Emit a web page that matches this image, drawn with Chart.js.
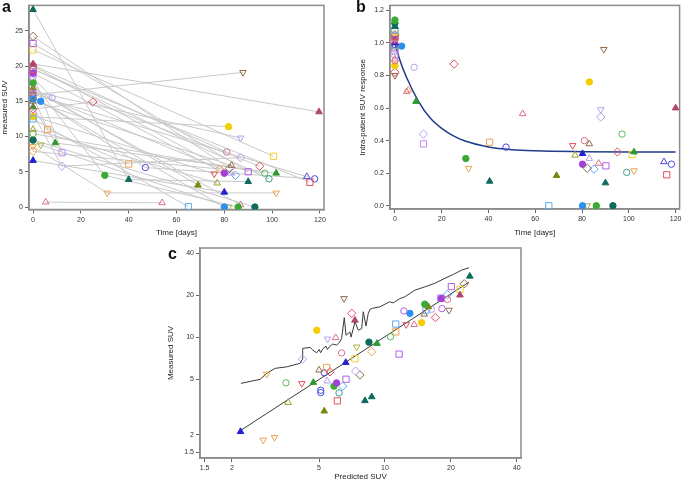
<!DOCTYPE html>
<html>
<head>
<meta charset="utf-8">
<script src="https://cdn.jsdelivr.net/npm/chart.js@4.4.1/dist/chart.umd.min.js"></script>
<style>
  body { margin: 0; background: #fff; width: 685px; height: 482px; position: relative; overflow: hidden;
         font-family: "Liberation Sans", Arial, sans-serif; }
  canvas { position: absolute; }
  .panel { position: absolute; font-weight: bold; font-size: 16px; line-height: 16px; color: #111; }
</style>
</head>
<body>
<canvas id="chartA" width="335" height="243" style="left:0;top:0"></canvas>
<canvas id="chartB" width="345" height="243" style="left:340px;top:0"></canvas>
<canvas id="chartC" width="385" height="244" style="left:150px;top:238px"></canvas>
<div class="panel" style="left:2px;top:-1px">a</div>
<div class="panel" style="left:356px;top:-1px">b</div>
<div class="panel" style="left:168px;top:246px">c</div>
<script>
// marker look per patient: [shape, colour, filled]
const markerStyles = {
    tealTri: ['triangle', '#0e6b5c', true],
    tealDot: ['circle', '#0e6b5c', true],
    tealCirc: ['circle', '#3c9c8f', false],
    brownDia: ['rectRot', '#8c6a4e', false],
    brownHeart: ['down', '#8c6a4e', false],
    brownTri: ['triangle', '#8c6a4e', false],
    purpleSq: ['rect', '#b35ee6', false],
    purpleDot: ['circle', '#a43fd9', true],
    purpleCirc: ['circle', '#b35ee6', false],
    yellowSq: ['rect', '#f0d030', false],
    yellowDot: ['circle', '#f5cc00', true],
    pinkTri: ['triangle', '#d9708f', false],
    pinkCirc: ['circle', '#d9708f', false],
    redSq: ['rect', '#e0505e', false],
    redDia: ['rectRot', '#e0505e', false],
    redHeart: ['down', '#e0505e', false],
    maroonTri: ['triangle', '#b0446e', true],
    greenDot: ['circle', '#3aaa35', true],
    greenTri: ['triangle', '#2e9a2e', true],
    greenCirc: ['circle', '#5ab85a', false],
    blueDot: ['circle', '#2b8ff0', true],
    blueSq: ['rect', '#5aaaf5', false],
    blueDia: ['rectRot', '#5aaaf5', false],
    navyTri: ['triangle', '#2222d0', true],
    navyTriO: ['triangle', '#4a4ae0', false],
    navyCirc: ['circle', '#4a4ae0', false],
    orangeSq: ['rect', '#f0a050', false],
    orangeDia: ['rectRot', '#f0a050', false],
    orangeHeart: ['down', '#f0a050', false],
    orangeTri: ['triangle', '#f0a050', false],
    oliveTri: ['triangle', '#9aa030', false],
    oliveTriF: ['triangle', '#7a8a10', true],
    oliveHeart: ['down', '#a8b040', false],
    lavCirc: ['circle', '#b6a0f0', false],
    lavSq: ['rect', '#c08cf0', false],
    lavDia: ['rectRot', '#b6a0f0', false],
    lavHeart: ['down', '#b6a0f0', false],
    lavTri: ['triangle', '#b6a0f0', false]
};

// ---- panel a: measured SUV over time, one row per patient
const aPatients = ['tealTri', 'brownDia', 'purpleSq', 'yellowSq', 'maroonTri', 'pinkCirc', 'redSq', 'purpleDot',
    'greenDot', 'pinkTri', 'lavSq', 'blueSq', 'brownTri', 'blueDot', 'lavCirc', 'redDia', 'yellowDot', 'oliveTri',
    'greenCirc', 'tealDot', 'orangeDia', 'navyTri', 'orangeSq', 'greenTri', 'oliveHeart', 'lavDia', 'pinkTri',
    'orangeHeart', 'navyCirc', 'navyTriO', 'tealCirc', 'oliveTriF', 'brownHeart', 'lavHeart', 'redHeart', 'lavTri', 'blueDia'];
const aDays = [[0, 40, 90], [0, 82.2], [0, 90], [0, 100.6], [0, 119.6], [0, 81], [0, 115.8], [0, 80],
    [0, 30, 85.8], [0, 86.8], [0, 12.1], [0, 65], [0, 83], [0, 3.2, 80], [0, 8], [0, 25, 94.8], [0, 81.8], [0, 77],
    [0, 96.9], [0, 92.8], [0, 78], [0, 80], [0, 6.1, 40], [0, 9.3, 101.7], [0, 3.2, 81.8], [0, 12.1, 86.8], [5.3, 54],
    [0, 31, 101.7], [0, 47, 117.8], [0, 114.5], [0, 98.7], [0, 69], [0, 87.8], [0, 86.8], [0, 75.8], [0, 82.8], [0, 84.7]];
const aSuv = [[28.0, 3.9, 3.6], [24.2, 5.5], [23.2, 5.0], [22.3, 7.2], [20.3, 13.5], [20.1, 7.8], [19.5, 3.5], [19.0, 4.8],
    [17.6, 4.5, 0], [16.6, 0.3], [18.9, 7.7], [12.5, 0.05], [15.0, 5.9], [15.3, 15.0, 0], [18.4, 15.5], [13.9, 14.9, 5.8], [12.8, 11.4], [11.0, 3.4],
    [10.4, 4.8], [9.5, 0], [7.9, 5.4], [6.6, 2.1], [15.6, 11.0, 6.1], [14.2, 9.1, 4.8], [9.3, 8.8, 0], [13.2, 5.8, 7.0], [0.7, 0.6],
    [8.6, 2.0, 2.0], [15.7, 5.6, 4.0], [16.0, 4.3], [19.6, 4.0], [16.9, 3.1], [15.9, 19.1], [16.4, 9.8], [12.9, 4.7], [16.3, 4.8], [20.0, 4.5]];
const aXTicks = [0, 20, 40, 60, 80, 100, 120];
const aYTicks = [0, 5, 10, 15, 20, 25];

// ---- panel b: intra-patient SUV response
const bNames = ['greenDot', 'greenTri', 'tealDot', 'tealTri', 'blueSq', 'yellowSq', 'brownDia', 'redSq', 'orangeSq',
    'purpleDot', 'maroonTri', 'navyTri', 'navyCirc', 'greenCirc', 'purpleSq', 'lavSq', 'oliveTri', 'tealCirc', 'redHeart',
    'pinkTri', 'lavCirc', 'pinkCirc', 'yellowDot', 'redDia', 'brownHeart',
    'blueDot', 'lavCirc', 'redDia', 'orangeTri', 'pinkTri', 'greenTri', 'lavDia', 'lavSq', 'greenDot', 'orangeHeart',
    'tealTri', 'orangeSq', 'navyCirc', 'pinkTri', 'blueSq', 'brownHeart', 'yellowDot', 'lavHeart', 'lavDia', 'maroonTri',
    'greenCirc', 'pinkCirc', 'redHeart', 'brownTri', 'oliveTri', 'navyTri', 'lavTri', 'redDia', 'greenTri', 'yellowSq',
    'pinkTri', 'purpleDot', 'purpleSq', 'brownDia', 'blueDia', 'tealCirc', 'orangeHeart', 'navyTriO', 'navyCirc', 'redSq',
    'oliveTriF', 'tealTri', 'blueDot', 'oliveHeart', 'greenDot', 'tealDot'];
const bDays = [0, 0, 0, 0, 0, 0, 0, 0, 0, 0, 0, 0, 0, 0, 0, 0, 0, 0, 0, 0, 0, 0, 0, 0, 0,
    2.9, 8.2, 25.3, 5.7, 5.0, 9, 12.2, 12.2, 30.3, 31.5, 40.5, 40.5, 47.5, 54.6, 65.8, 89.3, 83.1, 88, 88, 120,
    97.1, 81, 76, 83.1, 77, 80.2, 83.1, 95.1, 102.2, 101.4, 87.1, 80.2, 90.2, 82.2, 85.1, 99.1, 102.2, 115, 118.2, 116.2,
    69.1, 90, 80.2, 82.2, 86.1, 93.2];
const bResp = [1.14, 1.13, 1.12, 1.10, 1.08, 1.07, 1.05, 1.04, 1.03, 1.02, 1.01, 1.00, 0.99, 0.98, 0.97, 0.95, 1.00, 1.02, 1.03,
    0.90, 0.92, 0.89, 0.86, 0.82, 0.80,
    0.98, 0.85, 0.87, 0.71, 0.70, 0.64, 0.44, 0.38, 0.29, 0.23, 0.15, 0.39, 0.36, 0.565, 0, 0.96, 0.76, 0.59, 0.545, 0.60,
    0.44, 0.40, 0.37, 0.38, 0.31, 0.32, 0.29, 0.33, 0.33, 0.315, 0.26, 0.255, 0.245, 0.23, 0.225, 0.205, 0.215, 0.27, 0.255, 0.19,
    0.185, 0.14, 0, 0, 0, 0];
// fitted decay curve
const bCurveDays = [0, 2, 5, 10, 15, 20, 25, 30, 40, 50, 60, 80, 100, 120];
const bCurveResp = [1.0, 0.90, 0.787, 0.643, 0.54, 0.475, 0.429, 0.397, 0.361, 0.344, 0.337, 0.332, 0.33, 0.33];
const bXTicks = [0, 20, 40, 60, 80, 100, 120];
const bYTicks = [0, 0.2, 0.4, 0.6, 0.8, 1.0, 1.2];

// ---- panel c: measured vs predicted SUV (log-log)
const cNames = ['brownHeart', 'redDia', 'maroonTri', 'yellowDot', 'lavHeart', 'pinkTri', 'pinkCirc', 'oliveHeart', 'lavDia',
    'orangeHeart', 'greenCirc', 'redHeart', 'greenTri', 'brownTri', 'orangeSq', 'redDia', 'navyCirc', 'lavTri', 'purpleDot',
    'greenDot', 'blueDia', 'purpleSq', 'navyCirc', 'navyCirc', 'tealCirc', 'redSq', 'oliveTri', 'oliveTriF', 'navyTri',
    'orangeHeart', 'orangeHeart', 'navyTri', 'yellowSq', 'lavDia', 'brownDia', 'tealTri', 'tealTri', 'purpleSq', 'orangeDia',
    'tealTri', 'purpleSq', 'brownDia', 'yellowSq', 'maroonTri', 'blueDia', 'purpleDot', 'purpleSq', 'pinkCirc', 'purpleCirc',
    'brownHeart', 'redDia', 'greenDot', 'oliveTriF', 'blueSq', 'lavCirc', 'brownTri', 'purpleCirc', 'blueDot', 'yellowDot',
    'pinkTri', 'redHeart', 'blueSq', 'orangeSq', 'greenCirc', 'tealDot', 'greenTri'];
const cPredicted = [6.50, 7.05, 7.29, 4.88, 5.47, 5.95, 6.34, 7.43, 4.2,
    2.88, 3.53, 4.17, 4.71, 5.00, 5.42, 5.61, 5.28, 5.45, 6.01,
    5.85, 6.41, 6.64, 5.09, 5.09, 6.17, 6.06, 3.61, 5.28, 2.19,
    2.78, 3.13, 6.62, 7.29, 7.35, 7.69, 8.10, 8.70, 11.6, 8.70,
    24.4, 20.1, 23.0, 22.0, 22.0, 19.3, 18.1, 18.0, 19.3, 18.2,
    19.6, 17.0, 15.2, 15.8, 15.4, 16.3, 15.1, 12.2, 13.0, 14.7,
    13.6, 12.5, 11.2, 11.2, 10.6, 8.45, 9.2];
const cMeasured = [18.9, 14.8, 13.2, 11.2, 9.7, 9.9, 7.7, 8.5, 6.95,
    5.43, 4.70, 4.65, 4.73, 5.8, 6.06, 5.64, 5.55, 4.84, 4.70,
    4.45, 4.45, 4.99, 4.16, 4.0, 3.98, 3.49, 3.40, 2.95, 2.10,
    1.83, 1.91, 6.57, 7.0, 5.7, 5.35, 3.50, 3.73, 7.55, 7.85,
    27.3, 23.0, 24.1, 22.0, 20.0, 20.2, 18.9, 19.0, 18.6, 16.0,
    15.6, 13.8, 17.2, 16.5, 15.6, 15.8, 14.6, 15.4, 14.8, 12.7,
    12.3, 12.3, 12.4, 10.9, 10.05, 9.2, 9.0];
// upper jagged line and identity-like line
const cUpperX = [2.20, 2.69, 2.88, 3.15, 3.56, 4.09, 4.19, 4.21, 4.55, 4.68, 4.88, 5.01, 5.08, 5.22, 5.38, 5.46, 5.57,
    5.77, 6.02, 6.23, 6.34, 6.52, 6.64, 6.92, 7.00, 7.30, 7.55, 7.83, 7.96, 8.19, 8.39, 8.54, 8.79, 9.49, 10.5, 10.9,
    11.7, 12.3, 13.7, 15.2, 16.9, 18.8, 20.5, 22.4, 24.2];
const cUpperY = [4.66, 4.98, 5.49, 5.97, 6.12, 6.48, 6.92, 8.30, 8.43, 8.07, 7.72, 8.16, 7.72, 8.30, 8.62, 8.16, 8.52,
    8.91, 8.77, 9.25, 9.79, 13.8, 10.3, 10.9, 10.0, 12.9, 11.2, 11.5, 15.2, 12.0, 14.8, 15.8, 16.1, 16.5, 17.9, 17.6,
    18.9, 19.4, 21.7, 22.9, 24.3, 26.4, 28.1, 30.2, 31.4];
const cFitX = [2.15, 24.2];
const cFitY = [2.1, 24.8];
const cTicks = [1.5, 2, 5, 10, 20, 40];

// ---------------------------------------------------------------- helpers
const FONT = 'Liberation Sans, Arial, sans-serif';
const radiusFor = { circle: 3.2, triangle: 3.8, down: 3.8, rect: 4.4, rectRot: 4.2 };

function pointProps(name) {
    const [shape, color, filled] = markerStyles[name];
    return {
        pointStyle: shape === 'down' ? 'triangle' : shape,
        pointRotation: shape === 'down' ? 180 : 0,
        pointRadius: radiusFor[shape],
        pointHoverRadius: radiusFor[shape],
        pointBackgroundColor: filled ? color : 'rgba(255,255,255,0)',
        pointBorderColor: color,
        pointBorderWidth: 1
    };
}

function groupPoints(names, xs, ys) {
    const groups = {};
    names.forEach((n, i) => {
        (groups[n] = groups[n] || []).push({ x: xs[i], y: ys[i] });
    });
    return Object.keys(groups).map(n => ({ data: groups[n], showLine: false, order: 1, ...pointProps(n) }));
}

function axis(type, min, max, ticks, title, fit, opts) {
    return {
        type: type,
        min: min,
        max: max,
        afterBuildTicks: s => { s.ticks = ticks.map(v => ({ value: v })); },
        afterFit: s => {
            if (fit.width) s.width = fit.width;
            if (fit.height) s.height = fit.height;
            s.paddingTop = 0; s.paddingBottom = 0; s.paddingLeft = 0; s.paddingRight = 0;
        },
        ticks: {
            font: { family: FONT, size: 7 },
            color: '#333',
            padding: 2,
            maxRotation: 0,
            autoSkip: false,
            callback: opts.format || (v => String(v))
        },
        grid: { drawOnChartArea: false, drawTicks: true, tickLength: 4, tickWidth: 1, color: '#666' },
        border: { display: true, color: '#888', width: 1.5 },
        title: { display: true, text: title, color: '#222', font: { family: FONT, size: 8 }, padding: opts.titlePad }
    };
}

const frame = {
    id: 'frame',
    beforeDatasetsDraw(chart) {
        const { ctx, chartArea: a } = chart;
        ctx.save();
        ctx.strokeStyle = '#8c8c8c';
        ctx.lineWidth = 1.5;
        ctx.strokeRect(a.left, a.top, a.right - a.left, a.bottom - a.top);
        ctx.restore();
    }
};

const baseOptions = (padding, scales) => ({
    responsive: false,
    animation: false,
    layout: { padding: padding },
    plugins: { legend: { display: false }, tooltip: { enabled: false } },
    scales: scales
});

// ---------------------------------------------------------------- chart a
const aLines = aPatients.map((n, i) => ({
    data: aDays[i].map((d, j) => ({ x: d, y: aSuv[i][j] })),
    showLine: true,
    borderColor: '#c8c8c8',
    borderWidth: 1,
    pointRadius: 0,
    order: 2
}));
const aNames = [], aX = [], aY = [];
aPatients.forEach((n, i) => aDays[i].forEach((d, j) => { aNames.push(n); aX.push(d); aY.push(aSuv[i][j]); }));

new Chart(document.getElementById('chartA'), {
    type: 'scatter',
    data: { datasets: aLines.concat(groupPoints(aNames, aX, aY)) },
    options: baseOptions({ left: 0, right: 11, top: 2, bottom: 0 }, {
        x: axis('linear', -1.7, 121.7, aXTicks, 'Time [days]', { height: 33.5 }, { titlePad: { top: 0, bottom: 5 } }),
        y: axis('linear', -0.35, 28.6, aYTicks, 'measured SUV', { width: 29 }, { titlePad: { top: 0, bottom: 0 } })
    }),
    plugins: [frame]
});

// ---------------------------------------------------------------- chart b
const bCurve = {
    data: bCurveDays.map((d, i) => ({ x: d, y: bCurveResp[i] })),
    showLine: true,
    borderColor: '#1f3c8c',
    borderWidth: 1.5,
    pointRadius: 0,
    cubicInterpolationMode: 'monotone',
    order: 2
};

new Chart(document.getElementById('chartB'), {
    type: 'scatter',
    data: { datasets: [bCurve].concat(groupPoints(bNames, bDays, bResp)) },
    options: baseOptions({ left: 16, right: 3, top: 2, bottom: 0 }, {
        x: axis('linear', -2.1, 121.7, bXTicks, 'Time [days]', { height: 34 }, { titlePad: { top: 0, bottom: 5 } }),
        y: axis('linear', -0.02, 1.23, bYTicks, 'Intra-patient SUV response', { width: 34 },
            { titlePad: { top: 2, bottom: 0 }, format: v => v.toFixed(1) })
    }),
    plugins: [frame]
});

// ---------------------------------------------------------------- chart c
const cUpper = {
    data: cUpperX.map((x, i) => ({ x: x, y: cUpperY[i] })),
    showLine: true, borderColor: '#3a3a3a', borderWidth: 1, pointRadius: 0, order: 2
};
const cFit = {
    data: cFitX.map((x, i) => ({ x: x, y: cFitY[i] })),
    showLine: true, borderColor: '#3a3a3a', borderWidth: 1, pointRadius: 0, order: 2
};

new Chart(document.getElementById('chartC'), {
    type: 'scatter',
    data: { datasets: [cUpper, cFit].concat(groupPoints(cNames, cPredicted, cMeasured)) },
    options: baseOptions({ left: 12, right: 14, top: 10, bottom: 0 }, {
        x: axis('logarithmic', 1.43, 41.8, cTicks, 'Predicted SUV', { height: 24 }, { titlePad: { top: 0, bottom: 0 } }),
        y: axis('logarithmic', 1.36, 43.5, cTicks, 'Measured SUV', { width: 38 }, { titlePad: { top: 4, bottom: 0 } })
    }),
    plugins: [frame]
});
</script>
</body>
</html>
